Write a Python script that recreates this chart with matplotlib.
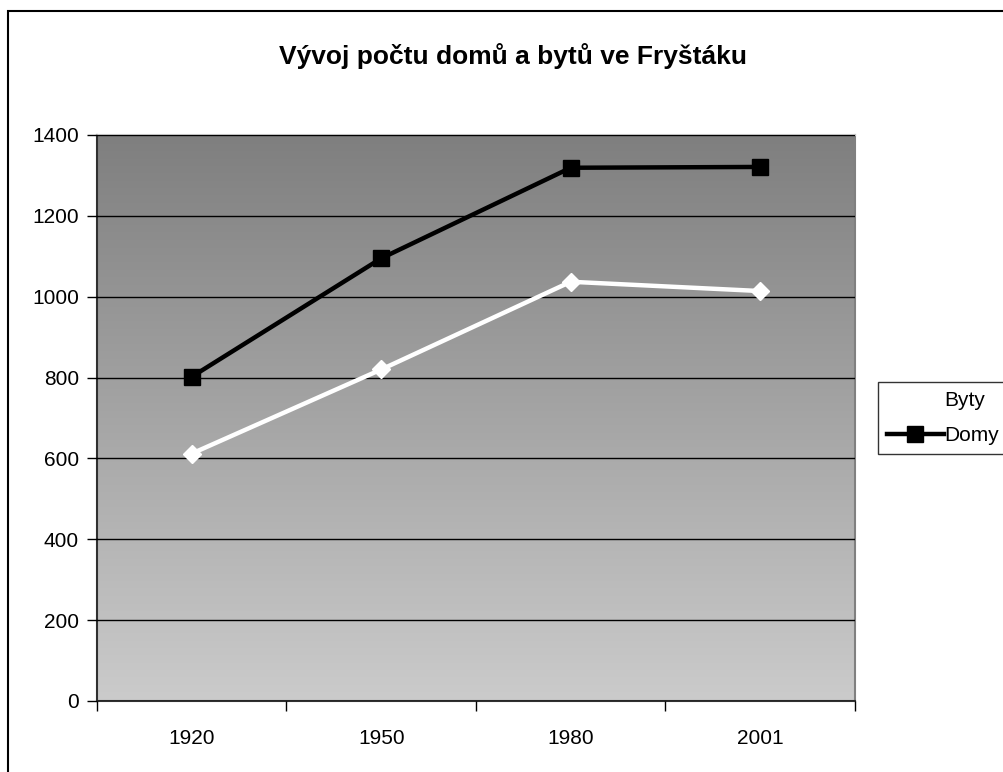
import numpy as np
import matplotlib.pyplot as plt
from matplotlib.colors import LinearSegmentedColormap

roky = ['1920', '1950', '1980', '2001']
domy = [802, 1095, 1319, 1321]
byty = [612, 820, 1037, 1014]

plt.rcParams['font.family'] = ['Liberation Sans', 'DejaVu Sans']

fig = plt.figure(figsize=(10.04, 7.72), dpi=100)
ax = fig.add_axes([97 / 1004, 71 / 772, 758 / 1004, 566 / 772])

# gradient background of the plot area
grad = LinearSegmentedColormap.from_list('g', ['#cbcbcb', '#7f7f7f'])
ax.imshow(np.linspace(0, 1, 256).reshape(-1, 1), cmap=grad, aspect='auto',
          extent=[-0.5, 3.5, 0, 1400], origin='lower', zorder=0)

x = np.arange(len(roky))
ax.plot(x, byty, color='white', lw=3.2, marker='D', ms=9, mec='white', mfc='white',
        label='Byty', zorder=3)
ax.plot(x, domy, color='black', lw=3.2, marker='s', ms=11, label='Domy', zorder=4)

ax.set_xlim(-0.5, 3.5)
ax.set_ylim(0, 1400)
ax.set_yticks(range(0, 1401, 200))
ax.grid(axis='y', color='black', lw=1, zorder=1)
ax.set_axisbelow(False)

ax.set_xticks(x)
ax.set_xticklabels(roky)
ax.set_xticks(np.arange(-0.5, 3.6, 1), minor=True)
ax.tick_params(axis='x', which='major', length=0, pad=20, labelsize=15)
ax.tick_params(axis='x', which='minor', length=7, width=1, direction='out')
ax.tick_params(axis='y', length=7, width=1, labelsize=15, pad=6)

ax.spines['left'].set_color('#303030')
ax.spines['bottom'].set_color('#303030')
ax.spines['right'].set_color('#808080')
ax.spines['top'].set_color('#c0c0c0')
for s in ax.spines.values():
    s.set_linewidth(1.5)

fig.text(513 / 1004, 1 - 56 / 772, 'Vývoj počtu domů a bytů ve Fryštáku',
         ha='center', va='center', fontsize=19, fontweight='bold')

leg = fig.legend(loc='center left', bbox_to_anchor=(878 / 1004, 1 - 418 / 772),
                 fontsize=15, frameon=True, fancybox=False, edgecolor='black',
                 handlelength=2.7, handletextpad=0.05, borderpad=0.45,
                 labelspacing=0.75, borderaxespad=0)
leg.get_frame().set_linewidth(1)

# outer chart border
fig.patches.append(plt.Rectangle((8 / 1004, -0.01), 1.02, 1 - 11 / 772 + 0.01,
                                 transform=fig.transFigure, fill=False,
                                 edgecolor='black', lw=1.5))

fig.savefig('out.png', dpi=100)
